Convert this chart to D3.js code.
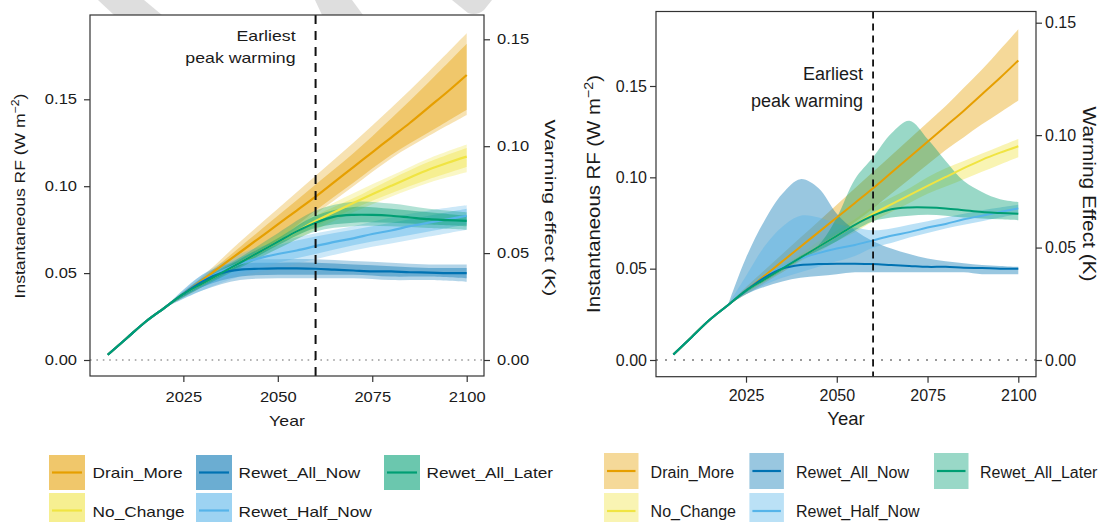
<!DOCTYPE html>
<html>
<head>
<meta charset="utf-8">
<script src="https://cdn.jsdelivr.net/npm/d3@7"></script>
<style>
  body { margin: 0; background: #fff; }
  text { font-family: "Liberation Sans", Arial, sans-serif; fill: #1a1a1a; }
</style>
</head>
<body>
<svg id="chart" width="1102" height="522"></svg>
<script>
// ---- data (W m-2) ----
var years = [2005,2010,2015,2020,2025,2030,2035,2040,2045,2050,2055,2060,2065,2070,2075,2080,2085,2090,2095,2100];

var drainMore     = [0.003,0.0125,0.022,0.030,0.038,0.046,0.054,0.062,0.070,0.078,0.086,0.094,0.1025,0.111,0.1195,0.128,0.1365,0.1455,0.1545,0.164];
var noChange      = [0.003,0.0125,0.022,0.030,0.038,0.044,0.050,0.056,0.062,0.068,0.074,0.080,0.0852,0.0903,0.0953,0.1002,0.105,0.1096,0.1135,0.117];
var rewetAllNow   = [0.003,0.0125,0.022,0.030,0.038,0.045,0.050,0.052,0.0525,0.0527,0.0527,0.0525,0.052,0.0515,0.051,0.051,0.0505,0.0503,0.050,0.050];
var rewetHalfNow  = [0.003,0.0125,0.022,0.030,0.038,0.045,0.051,0.0555,0.0585,0.061,0.063,0.0655,0.068,0.070,0.0725,0.0745,0.077,0.079,0.081,0.083];
var rewetAllLater = [0.003,0.0125,0.022,0.030,0.038,0.044,0.050,0.056,0.062,0.068,0.074,0.079,0.0825,0.0835,0.0835,0.083,0.082,0.081,0.0805,0.080];

// left panel uncertainty (outer + inner ranges)
var bandYearsL = [2020,2030,2040,2050,2060,2070,2080,2090,2100];
var drainOuterLoL = [0.030,0.042,0.054,0.068,0.084,0.100,0.116,0.129,0.141];
var drainOuterHiL = [0.030,0.048,0.068,0.087,0.106,0.125,0.145,0.166,0.188];
var drainInnerLoL = [0.030,0.043,0.055,0.069,0.086,0.102,0.118,0.131,0.144];
var drainInnerHiL = [0.030,0.047,0.065,0.083,0.101,0.119,0.139,0.160,0.182];
var noChangeOuterLoL = [0.030,0.042,0.053,0.064,0.075,0.085,0.094,0.102,0.108];
var noChangeOuterHiL = [0.030,0.046,0.059,0.072,0.085,0.096,0.106,0.116,0.124];
var noChangeInnerLoL = [0.030,0.043,0.054,0.066,0.077,0.087,0.096,0.104,0.111];
var noChangeInnerHiL = [0.030,0.045,0.058,0.070,0.083,0.093,0.104,0.114,0.122];
var allNowOuterLoL = [0.030,0.040,0.046,0.047,0.047,0.047,0.046,0.046,0.045];
var allNowOuterHiL = [0.030,0.049,0.057,0.058,0.058,0.057,0.056,0.055,0.055];
var allNowInnerLoL = [0.030,0.042,0.048,0.049,0.049,0.049,0.048,0.048,0.047];
var allNowInnerHiL = [0.030,0.047,0.055,0.056,0.056,0.055,0.054,0.053,0.053];
var halfNowOuterLoL = [0.030,0.040,0.048,0.053,0.058,0.063,0.067,0.071,0.075];
var halfNowOuterHiL = [0.030,0.049,0.061,0.068,0.073,0.077,0.082,0.086,0.089];
var halfNowInnerLoL = [0.030,0.042,0.050,0.056,0.061,0.066,0.070,0.074,0.078];
var halfNowInnerHiL = [0.030,0.047,0.059,0.066,0.071,0.075,0.079,0.083,0.087];
var allLaterOuterLoL = [0.030,0.042,0.053,0.064,0.074,0.077,0.077,0.076,0.075];
var allLaterOuterHiL = [0.030,0.046,0.059,0.073,0.086,0.091,0.090,0.087,0.085];
var allLaterInnerLoL = [0.030,0.043,0.054,0.066,0.076,0.079,0.079,0.078,0.077];
var allLaterInnerHiL = [0.030,0.045,0.058,0.070,0.083,0.088,0.087,0.085,0.083];

// right panel uncertainty
var bandYearsR = [2020,2025,2030,2035,2040,2045,2050,2055,2060,2065,2070,2075,2080,2085,2090,2095,2100];
var drainLoR    = [0.030,0.036,0.042,0.048,0.0545,0.061,0.068,0.0755,0.083,0.091,0.099,0.107,0.115,0.122,0.129,0.1355,0.142];
var drainHiR    = [0.030,0.040,0.049,0.058,0.067,0.076,0.085,0.094,0.103,0.112,0.121,0.130,0.139,0.149,0.159,0.170,0.181];
var noChangeLoR = [0.030,0.037,0.043,0.048,0.054,0.059,0.065,0.070,0.076,0.081,0.086,0.091,0.095,0.099,0.103,0.107,0.111];
var noChangeHiR = [0.030,0.039,0.045,0.052,0.058,0.065,0.071,0.077,0.084,0.089,0.094,0.100,0.105,0.109,0.113,0.117,0.121];
var allNowLoR   = [0.030,0.036,0.040,0.043,0.045,0.046,0.047,0.048,0.048,0.048,0.048,0.048,0.048,0.048,0.047,0.047,0.047];
var allNowHiR   = [0.030,0.056,0.076,0.091,0.099,0.094,0.080,0.071,0.065,0.061,0.058,0.0555,0.054,0.053,0.052,0.0515,0.051];
var halfNowLoR  = [0.030,0.036,0.041,0.045,0.048,0.051,0.054,0.057,0.0615,0.064,0.067,0.0695,0.072,0.074,0.076,0.078,0.080];
var halfNowHiR  = [0.030,0.046,0.062,0.073,0.079,0.078,0.0745,0.0725,0.071,0.072,0.074,0.076,0.078,0.080,0.082,0.0835,0.085];
var allLaterLoR = [0.030,0.037,0.043,0.049,0.055,0.060,0.065,0.071,0.076,0.078,0.079,0.0795,0.079,0.078,0.0775,0.077,0.0765];
var allLaterHiR = [0.030,0.039,0.045,0.051,0.057,0.063,0.078,0.099,0.111,0.124,0.131,0.121,0.109,0.098,0.092,0.088,0.0865];

var seriesNames = ["Drain_More","No_Change","Rewet_All_Now","Rewet_Half_Now","Rewet_All_Later"];
var seriesColors = ["#E69F00","#F0E442","#0072B2","#56B4E9","#009E73"];
var seriesMeans = [drainMore, noChange, rewetAllNow, rewetHalfNow, rewetAllLater];
var yTicks = [0, 0.05, 0.10, 0.15];
var xTicks = [2025, 2050, 2075, 2100];
var peakYear = 2060;

var svg = d3.select("#chart");
svg.append("rect").attr("width", 1102).attr("height", 522).attr("fill", "#fff");

// faint marks along the top edge of the left panel
var ghost = svg.append("g").attr("fill", "#dedede");
ghost.append("path").attr("d", "M98,0L144,0L162,15L114,15Z");
ghost.append("path").attr("d", "M315,0L352,0L363,15L322,15Z");
ghost.append("path").attr("d", "M452,0L492,0L484,10Q477,16 468,13Z");

function stretch(sel, k) {
  if (k === 1) return;
  sel.each(function () {
    var w = this.getComputedTextLength();
    d3.select(this).attr("textLength", w * k).attr("lengthAdjust", "spacingAndGlyphs");
  });
}

// rotated title scaled along its direction to a target length
function vtitle(g, cx, cy, angle, size, target) {
  var t = g.append("text").attr("text-anchor", "middle").attr("font-size", size);
  return {
    t: t,
    fit: function () {
      var k = target / t.node().getComputedTextLength();
      t.attr("transform", "translate(" + cx + "," + cy + ") rotate(" + angle + ") scale(" + k + ",1)");
    }
  };
}

function pts(xs, ys) { return xs.map(function (d, i) { return { year: d, v: ys[i] }; }); }

function drawPanel(p) {
  var g = svg.append("g");
  var x = d3.scaleLinear().domain([2005, 2100]).range(p.xRange);
  var y = d3.scaleLinear().domain([0, 0.15]).range(p.yRange);
  var y2 = d3.scaleLinear().domain([0, 0.15]).range(p.y2Range);
  var curve = d3.curveCatmullRom.alpha(0.5);

  // zero reference line
  g.append("line")
    .attr("x1", p.box[0]).attr("x2", p.box[2])
    .attr("y1", y(0)).attr("y2", y(0))
    .attr("stroke", "#9a9a9a").attr("stroke-width", p.dotW)
    .attr("stroke-dasharray", p.dotDash);

  // uncertainty bands
  var area = d3.area().curve(curve)
    .x(function (d) { return x(d.year); })
    .y0(function (d) { return y(d.lo); })
    .y1(function (d) { return y(d.hi); });
  p.bands.forEach(function (b) {
    var data = b.years.map(function (yr, i) { return { year: yr, lo: b.lo[i], hi: b.hi[i] }; });
    g.append("path").attr("d", area(data))
      .attr("fill", seriesColors[b.s]).attr("fill-opacity", b.a);
  });

  // central lines
  var line = d3.line().curve(curve)
    .x(function (d) { return x(d.year); })
    .y(function (d) { return y(d.v); });
  [0, 1, 3, 2, 4].forEach(function (s) {
    g.append("path").attr("d", line(pts(years, seriesMeans[s])))
      .attr("fill", "none").attr("stroke", seriesColors[s])
      .attr("stroke-width", p.lineW).attr("stroke-linejoin", "round");
  });

  // earliest peak warming
  g.append("line")
    .attr("x1", x(peakYear)).attr("x2", x(peakYear))
    .attr("y1", p.box[1]).attr("y2", p.box[3])
    .attr("stroke", "#111").attr("stroke-width", p.dashW)
    .attr("stroke-dasharray", p.dash);
  var lab = g.append("g").attr("font-size", p.noteSize).attr("text-anchor", "end");
  lab.append("text").attr("x", x(peakYear) - p.noteGap).attr("y", p.noteY[0]).text("Earliest");
  lab.append("text").attr("x", x(peakYear) - p.noteGap).attr("y", p.noteY[1]).text("peak warming");
  stretch(lab.selectAll("text"), p.k);

  // box
  g.append("rect")
    .attr("x", p.box[0]).attr("y", p.box[1])
    .attr("width", p.box[2] - p.box[0]).attr("height", p.box[3] - p.box[1])
    .attr("fill", "none").attr("stroke", "#333").attr("stroke-width", 1.2);

  // axes
  var ax = g.append("g").attr("transform", "translate(0," + p.box[3] + ")")
    .call(d3.axisBottom(x).tickValues(xTicks).tickFormat(d3.format("d")).tickSize(6).tickPadding(p.xPad));
  var ay = g.append("g").attr("transform", "translate(" + p.box[0] + ",0)")
    .call(d3.axisLeft(y).tickValues(yTicks).tickFormat(d3.format(".2f")).tickSize(6).tickPadding(p.yPad));
  var ay2 = g.append("g").attr("transform", "translate(" + p.box[2] + ",0)")
    .call(d3.axisRight(y2).tickValues(yTicks).tickFormat(d3.format(".2f")).tickSize(6).tickPadding(p.y2Pad));
  [ax, ay, ay2].forEach(function (a) {
    a.select(".domain").remove();
    a.selectAll("line").attr("stroke", "#333").attr("stroke-width", 1.2);
    a.selectAll("text").attr("font-size", p.tickSize).attr("font-family", null).attr("fill", "#1a1a1a");
    stretch(a.selectAll("text"), p.k);
  });

  // titles
  var xt = g.append("text").attr("x", (p.box[0] + p.box[2]) / 2).attr("y", p.xTitleY)
    .attr("text-anchor", "middle").attr("font-size", p.titleSize).text("Year");
  stretch(xt, p.k);

  var yt = vtitle(g, p.yTitle[0], p.yTitle[1], -90, p.vSize, p.yTitle[2]);
  yt.t.append("tspan").text("Instantaneous RF (W m");
  yt.t.append("tspan").attr("baseline-shift", "super").attr("font-size", p.vSize * 0.7).text("\u22122");
  yt.t.append("tspan").text(")");
  yt.fit();

  var yt2 = vtitle(g, p.y2Title[0], p.y2Title[1], 90, p.vSize, p.y2Title[2]);
  yt2.t.text(p.y2Label);
  yt2.fit();
}

function legend(l) {
  var g = svg.append("g");
  var order = [0, 2, 4, 1, 3];
  order.forEach(function (s, i) {
    var col = i < 3 ? i : i - 3, row = i < 3 ? 0 : 1;
    var sx = l.swX[col], sy = l.swY[row];
    g.append("rect").attr("x", sx).attr("y", sy).attr("width", l.swW).attr("height", l.swH)
      .attr("fill", seriesColors[s]).attr("fill-opacity", l.a);
    g.append("line").attr("x1", sx + 3).attr("x2", sx + l.swW - 3)
      .attr("y1", sy + l.swH / 2).attr("y2", sy + l.swH / 2)
      .attr("stroke", seriesColors[s]).attr("stroke-width", 2.2);
    var t = g.append("text").attr("x", l.txX[col]).attr("y", l.txY[row])
      .attr("font-size", l.size).text(seriesNames[s]);
    stretch(t, l.k);
  });
}

function bandsL() {
  return [
    { s: 0, years: bandYearsL, lo: drainOuterLoL, hi: drainOuterHiL, a: 0.3 },
    { s: 0, years: bandYearsL, lo: drainInnerLoL, hi: drainInnerHiL, a: 0.4 },
    { s: 1, years: bandYearsL, lo: noChangeOuterLoL, hi: noChangeOuterHiL, a: 0.3 },
    { s: 1, years: bandYearsL, lo: noChangeInnerLoL, hi: noChangeInnerHiL, a: 0.4 },
    { s: 2, years: bandYearsL, lo: allNowOuterLoL, hi: allNowOuterHiL, a: 0.3 },
    { s: 2, years: bandYearsL, lo: allNowInnerLoL, hi: allNowInnerHiL, a: 0.4 },
    { s: 3, years: bandYearsL, lo: halfNowOuterLoL, hi: halfNowOuterHiL, a: 0.3 },
    { s: 3, years: bandYearsL, lo: halfNowInnerLoL, hi: halfNowInnerHiL, a: 0.4 },
    { s: 4, years: bandYearsL, lo: allLaterOuterLoL, hi: allLaterOuterHiL, a: 0.3 },
    { s: 4, years: bandYearsL, lo: allLaterInnerLoL, hi: allLaterInnerHiL, a: 0.4 }
  ];
}

function bandsR() {
  return [
    { s: 0, years: bandYearsR, lo: drainLoR, hi: drainHiR, a: 0.4 },
    { s: 1, years: bandYearsR, lo: noChangeLoR, hi: noChangeHiR, a: 0.4 },
    { s: 2, years: bandYearsR, lo: allNowLoR, hi: allNowHiR, a: 0.4 },
    { s: 3, years: bandYearsR, lo: halfNowLoR, hi: halfNowHiR, a: 0.4 },
    { s: 4, years: bandYearsR, lo: allLaterLoR, hi: allLaterHiR, a: 0.4 }
  ];
}

// left panel
drawPanel({
  box: [90, 15, 484, 376],
  xRange: [107.8, 466.7], yRange: [360, 99.3], y2Range: [360, 39.3],
  bands: bandsL(), lineW: 2.2, dashW: 2, dash: "9,7", dotW: 1.6, dotDash: "1.6,4.8",
  k: 1.18, tickSize: 14, titleSize: 15, noteSize: 15, noteGap: 20, noteY: [41, 63],
  xPad: 10, yPad: 7, y2Pad: 7, xTitleY: 426, vSize: 15.5,
  yTitle: [25, 196, 205], y2Title: [545, 208, 177], y2Label: "Warming effect (K)"
});

// right panel
drawPanel({
  box: [656, 11.5, 1036, 376.7],
  xRange: [673.4, 1018.3], yRange: [360, 86], y2Range: [360, 22.7],
  bands: bandsR(), lineW: 2, dashW: 1.8, dash: "7,5", dotW: 2, dotDash: "2,7",
  k: 1, tickSize: 16, titleSize: 18.5, noteSize: 18, noteGap: 10, noteY: [80, 107],
  xPad: 7, yPad: 3, y2Pad: 3, xTitleY: 425, vSize: 18.5,
  yTitle: [600, 194, 238], y2Title: [1083, 194, 175], y2Label: "Warming Effect (K)"
});

legend({ swX: [49, 196, 384], txX: [92.6, 238.5, 426.5], swY: [455, 493], txY: [478, 517],
  swW: 36, swH: 35, a: 0.58, size: 15, k: 1.15 });
legend({ swX: [604, 749.4, 934], txX: [650.6, 796, 980], swY: [453, 493], txY: [477.5, 517],
  swW: 34.5, swH: 36, a: 0.4, size: 16, k: 1 });
</script>
</body>
</html>
